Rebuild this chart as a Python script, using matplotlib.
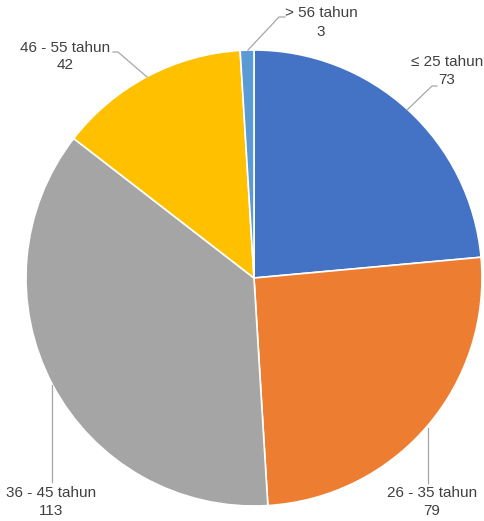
import matplotlib
matplotlib.use("Agg")
import matplotlib.pyplot as plt

categories = ["≤ 25 tahun", "26 - 35 tahun", "36 - 45 tahun", "46 - 55 tahun", "> 56 tahun"]
values = [73, 79, 113, 42, 3]
colors = ["#4472C4", "#ED7D31", "#A5A5A5", "#FFC000", "#5B9BD5"]

W, H = 484, 521
fig = plt.figure(figsize=(W / 100, H / 100), dpi=100)
fig.patch.set_facecolor("white")
ax = fig.add_axes([0, 0, 1, 1])
ax.set_xlim(0, W)
ax.set_ylim(0, H)
ax.set_aspect("equal")
ax.axis("off")

cx, cy, r = 254, H - 278, 228
ax.pie(values, colors=colors, startangle=90, counterclock=False,
       center=(cx, cy), radius=r, frame=True,
       wedgeprops=dict(edgecolor="white", linewidth=1.2))
ax.set_xlim(0, W)
ax.set_ylim(0, H)
ax.axis("off")

# label positions (pixel coords from top): (x, y_name, y_value)
label_pos = [(447, 62, 80), (432, 493, 511), (51, 493, 511), (65, 48, 65), (321, 13, 32)]
leaders = [
    [(407, 110), (432, 86), (437, 86)],
    [(428, 428), (428, 483)],
    [(52, 385), (52, 482)],
    [(147, 77), (118, 52), (113, 52)],
    [(248, 50), (279, 17), (285, 17)],
]
tc = "#404040"
for cat, val, (lx, ly1, ly2), pts in zip(categories, values, label_pos, leaders):
    ax.text(lx, H - ly1, cat, ha="center", va="center", fontsize=11,
            color=tc, family=["Liberation Sans", "DejaVu Sans"])
    ax.text(lx, H - ly2, str(val), ha="center", va="center", fontsize=11,
            color=tc, family=["Liberation Sans", "DejaVu Sans"])
    xs = [p[0] for p in pts]
    ys = [H - p[1] for p in pts]
    ax.plot(xs, ys, color="#A6A6A6", lw=0.9)

fig.savefig("out.png", dpi=100, facecolor="white")
